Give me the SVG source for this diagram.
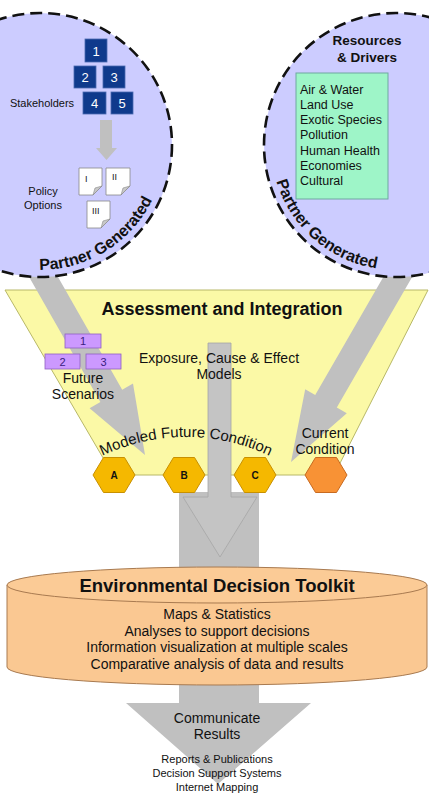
<svg xmlns="http://www.w3.org/2000/svg" width="429" height="800" viewBox="0 0 429 800">
<style>
text{font-family:"Liberation Sans",Arial,sans-serif;fill:#111}
.arrow{fill:#c0c0c0}
.circle{fill:#ccccff;stroke:#111;stroke-width:2.6;stroke-dasharray:12 6}
.pg{font-size:16px;font-weight:bold}
.sk{fill:#0f3a8c;stroke:#4a6ab0;stroke-width:0.8}
.skt{fill:#fff;font-size:13px;text-anchor:middle}
.doc{fill:#fff;stroke:#888;stroke-width:0.8}
.fold{fill:#c8c8c8;stroke:#888;stroke-width:0.6}
.doct{font-size:9px}
.fs{fill:#cc99ff;stroke:#9060c0;stroke-width:0.8}
.fst{fill:#3a2080;font-size:11px;text-anchor:middle}
.hex{fill:#f5b800;stroke:#c89000;stroke-width:1}
.hext{font-size:10px;font-weight:bold;text-anchor:middle}
.c{text-anchor:middle}
</style>
<defs>
<path id="pgL" d="M 35.6 269.9 A 125 125 0 0 0 160.7 177.4"/>
<path id="pgR" d="M 275.3 177.4 A 125 125 0 0 0 400.4 269.9"/>
<path id="mfc" d="M 100 457 A 195 195 0 0 1 272 457"/>
</defs>

<g id="assessment">
<polygon points="5,290 428,290 334,475 113,475" fill="#fbf9a6" stroke="#b8b868" stroke-width="1"/>
</g>

<g id="connectors">
<polygon class="arrow" points="22.7,265.7 100.4,402.1 89.6,408.3 145,455 133,383.5 122.2,389.7 44.5,253.3"/>
<polygon class="arrow" points="392.7,260.8 315.2,395.1 305.2,389.3 291,462 346.8,413.3 336.8,407.5 414.3,273.3"/>
<rect class="arrow" x="179" y="492" width="80" height="80"/>
<polygon points="208,343 231,343 231,497 257,497 220,557 183,497 208,497" fill="#c4c4c4" stroke="#a6a6a6" stroke-width="0.8"/>
<polygon class="arrow" points="179,670 259,670 259,703 311,703 218,784 126,703 179,703"/>
</g>

<g id="left-circle">
<circle class="circle" cx="40" cy="145" r="132"/>
<text class="pg"><textPath href="#pgL" startOffset="4">Partner</textPath></text>
<text class="pg"><textPath href="#pgL" startOffset="64.5">Generated</textPath></text>
</g>

<g id="stakeholders">
<rect class="sk" x="85" y="39" width="22" height="23"/><text class="skt" x="96" y="55.5">1</text>
<rect class="sk" x="74" y="66" width="22" height="22"/><text class="skt" x="85" y="82">2</text>
<rect class="sk" x="103" y="66" width="22" height="22"/><text class="skt" x="114" y="82">3</text>
<rect class="sk" x="83" y="92" width="23" height="22"/><text class="skt" x="94.5" y="108">4</text>
<rect class="sk" x="111" y="92" width="22" height="22"/><text class="skt" x="122" y="108">5</text>
<text x="42" y="107" class="c" font-size="11">Stakeholders</text>
</g>

<g id="stake-arrow">
<polygon class="arrow" points="100,120 112,120 112,148 117,148 106.5,160 96,148 100,148"/>
</g>

<g id="policy-options">
<polygon class="doc" points="79,168 102,168 102,186 93,195 79,195"/>
<polygon class="fold" points="93,195 95,188 102,186"/>
<text class="doct" x="85" y="182">I</text>
<polygon class="doc" points="106,168 130,168 130,186 121,195 106,195"/>
<polygon class="fold" points="121,195 123,188 130,186"/>
<text class="doct" x="112" y="180">II</text>
<polygon class="doc" points="87,201 110,201 110,219 101,228 87,228"/>
<polygon class="fold" points="101,228 103,221 110,219"/>
<text class="doct" x="92" y="214">III</text>
<text x="43" y="195" class="c" font-size="11">Policy</text>
<text x="43" y="209" class="c" font-size="11">Options</text>
</g>

<g id="right-circle">
<circle class="circle" cx="396" cy="145" r="132"/>
<text class="pg"><textPath href="#pgR" startOffset="4">Partner</textPath></text>
<text class="pg"><textPath href="#pgR" startOffset="64.5">Generated</textPath></text>
<text x="367" y="45" class="c" font-size="13.5" font-weight="bold">Resources</text>
<text x="367" y="62" class="c" font-size="13.5" font-weight="bold">&amp; Drivers</text>
</g>

<g id="drivers">
<rect x="296" y="73" width="92" height="126" fill="#9ef5c8" stroke="#6fa8a0" stroke-width="1"/>
<text x="300" y="94" font-size="12.5">Air &amp; Water</text>
<text x="300" y="109" font-size="12.5">Land Use</text>
<text x="300" y="124" font-size="12.5">Exotic Species</text>
<text x="300" y="139" font-size="12.5">Pollution</text>
<text x="300" y="155" font-size="12.5">Human Health</text>
<text x="300" y="170" font-size="12.5">Economies</text>
<text x="300" y="185" font-size="12.5">Cultural</text>
</g>

<g id="assessment-labels">
<text x="222" y="315" class="c" font-size="18" font-weight="bold">Assessment and Integration</text>
<text x="219" y="363" class="c" font-size="14">Exposure, Cause &amp; Effect</text>
<text x="219" y="379" class="c" font-size="14">Models</text>
<text font-size="15"><textPath href="#mfc" startOffset="50%" text-anchor="middle">Modeled Future Condition</textPath></text>
<text x="325" y="438" class="c" font-size="14">Current</text>
<text x="325" y="454" class="c" font-size="14">Condition</text>
</g>

<g id="future-scenarios">
<rect class="fs" x="65" y="334" width="36" height="14"/><text class="fst" x="83" y="345">1</text>
<rect class="fs" x="45" y="354" width="35" height="15"/><text class="fst" x="62.5" y="366">2</text>
<rect class="fs" x="86" y="354" width="35" height="15"/><text class="fst" x="103.5" y="366">3</text>
<text x="83" y="383" class="c" font-size="14">Future</text>
<text x="83" y="399" class="c" font-size="14">Scenarios</text>
</g>

<g id="hex-a">
<polygon class="hex" points="93,475 103.5,457.5 124.5,457.5 135,475 124.5,492.5 103.5,492.5"/>
<text class="hext" x="114" y="479">A</text>
</g>
<g id="hex-b">
<polygon class="hex" points="163,475 173.5,457.5 194.5,457.5 205,475 194.5,492.5 173.5,492.5"/>
<text class="hext" x="184" y="479">B</text>
</g>
<g id="hex-c">
<polygon class="hex" points="234,475 244.5,457.5 265.5,457.5 276,475 265.5,492.5 244.5,492.5"/>
<text class="hext" x="255" y="479">C</text>
</g>
<g id="hex-current">
<polygon points="305,475 315.5,457.5 336.5,457.5 347,475 336.5,492.5 315.5,492.5" fill="#f89235" stroke="#c86a20" stroke-width="1"/>
</g>

<g id="toolkit">
<path d="M 7 585 L 7 667 A 210 18 0 0 0 427 667 L 427 585 Z" fill="#fac892" stroke="#a87a50" stroke-width="1"/>
<ellipse cx="217" cy="585" rx="210" ry="18" fill="#fbcb96" stroke="#a87a50" stroke-width="1"/>
<text x="217" y="592" class="c" font-size="18.5" font-weight="bold">Environmental Decision Toolkit</text>
<text x="217" y="619" class="c" font-size="14">Maps &amp; Statistics</text>
<text x="217" y="636" class="c" font-size="14">Analyses to support decisions</text>
<text x="217" y="652" class="c" font-size="14">Information visualization at multiple scales</text>
<text x="217" y="669" class="c" font-size="14">Comparative analysis of data and results</text>
</g>

<g id="communicate">
<text x="217" y="723" class="c" font-size="14">Communicate</text>
<text x="217" y="739" class="c" font-size="14">Results</text>
<text x="217" y="763" class="c" font-size="11">Reports &amp; Publications</text>
<text x="217" y="777" class="c" font-size="11">Decision Support Systems</text>
<text x="217" y="791" class="c" font-size="11">Internet Mapping</text>
</g>
</svg>
